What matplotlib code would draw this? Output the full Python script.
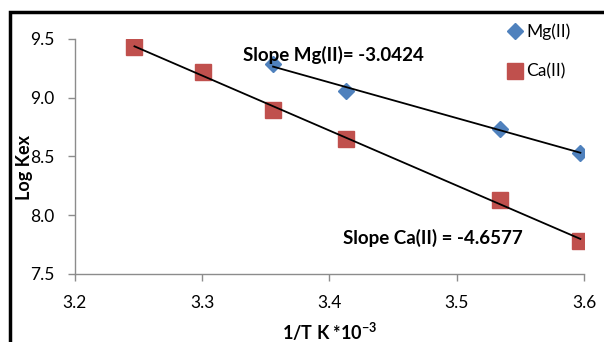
import numpy as np
import matplotlib.pyplot as plt
from matplotlib.patches import Rectangle
from matplotlib.ticker import FormatStrFormatter

# 1/T values (K^-1 * 10^-3) and log Kex
inv_t = [3.2468, 3.3003, 3.3557, 3.4130, 3.5336, 3.5971]
mg_x = inv_t[2:]
mg_logk = [9.285, 9.061, 8.735, 8.531]
ca_x = inv_t
ca_logk = [9.429, 9.222, 8.897, 8.647, 8.132, 7.778]

mg_label = "Slope Mg(II)= -3.0424"
ca_label = "Slope Ca(II) = -4.6577"

plt.rcParams["font.family"] = ["Lato", "DejaVu Sans"]
plt.rcParams["mathtext.fontset"] = "custom"
plt.rcParams["mathtext.rm"] = "Lato"
plt.rcParams["mathtext.bf"] = "Lato:bold"

fig = plt.figure(figsize=(6.04, 3.42), dpi=100)
ax = fig.add_axes([0.124, 0.199, 0.843, 0.687])

mg_color = "#4F81BD"
ca_color = "#C0504D"

ax.plot(mg_x, mg_logk, "D", color=mg_color, ms=8.5, label="Mg(II)", zorder=3)
ax.plot(ca_x, ca_logk, "s", color=ca_color, ms=11, label="Ca(II)", zorder=3)

# linear trend lines
for xs, ys in [(mg_x, mg_logk), (ca_x, ca_logk)]:
    k, b = np.polyfit(xs, ys, 1)
    xx = np.array([min(xs), max(xs)])
    ax.plot(xx, k * xx + b, color="black", lw=1.3, zorder=4)

ax.set_xlim(3.2, 3.6)
ax.set_ylim(7.5, 9.5)
ax.set_xticks([3.2, 3.3, 3.4, 3.5, 3.6])
ax.set_yticks([7.5, 8.0, 8.5, 9.0, 9.5])
ax.yaxis.set_major_formatter(FormatStrFormatter("%.1f"))
ax.xaxis.set_major_formatter(FormatStrFormatter("%.1f"))

for s in ["top", "right"]:
    ax.spines[s].set_visible(False)
for s in ["left", "bottom"]:
    ax.spines[s].set_color("#8C8C8C")
    ax.spines[s].set_linewidth(1.0)
ax.tick_params(colors="#8C8C8C", length=5, width=1.0, labelsize=12.5,
               labelcolor="black", pad=10)

ax.set_xlabel(r"1/T K *10$^{\mathbf{-3}}$", fontsize=13, fontweight="bold",
              va="center")
ax.xaxis.set_label_coords(0.5, -0.245)
ax.set_ylabel("Log Kex", fontsize=13, fontweight="bold")
ax.yaxis.set_label_coords(-0.082, 0.451)

ax.text(3.332, 9.364, mg_label, fontsize=13.5, fontweight="bold", va="center",
        zorder=5)
ax.text(3.4105, 7.806, ca_label, fontsize=13.5, fontweight="bold", va="center",
        zorder=5)

ax.legend(loc="upper left", bbox_to_anchor=(0.845, 1.065), frameon=False,
          fontsize=12.5, handletextpad=0.1, labelspacing=1.35, handlelength=1.1,
          borderaxespad=0, borderpad=0)

# chart frame, cut off at the right and bottom edges
fig.patches.append(Rectangle((10 / 604, -0.2), 1.2, 1.2 - 12 / 342,
                             transform=fig.transFigure, fill=False,
                             edgecolor="black", lw=2.5))

fig.savefig("out.png", dpi=100)
